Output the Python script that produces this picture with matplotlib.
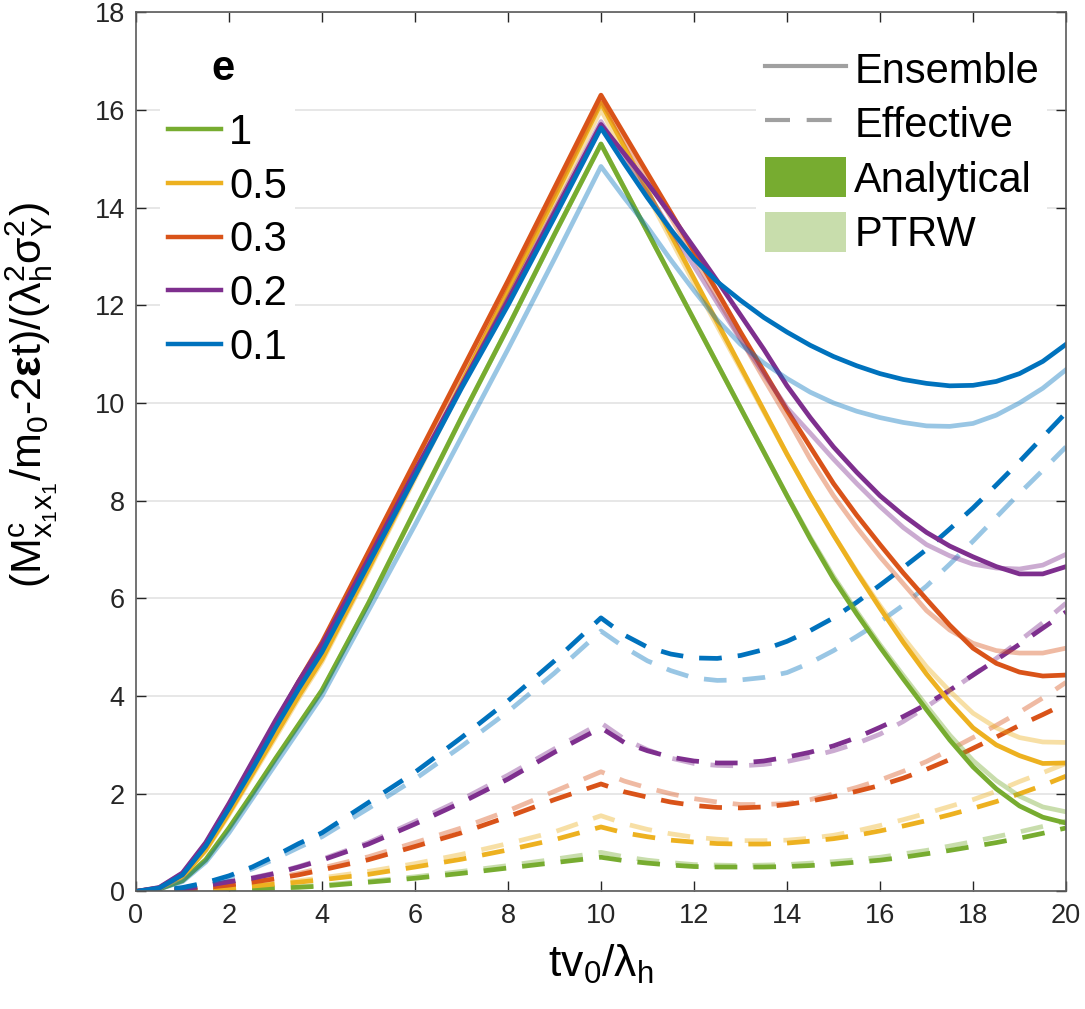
import matplotlib
matplotlib.use("Agg")
from matplotlib import pyplot as plt
from matplotlib.lines import Line2D
from matplotlib.patches import Patch

plt.rcParams['font.family'] = ['Liberation Sans', 'DejaVu Sans']
plt.rcParams['mathtext.fontset'] = 'custom'
plt.rcParams['mathtext.rm'] = 'Liberation Sans'
plt.rcParams['mathtext.it'] = 'Liberation Sans:italic'
plt.rcParams['mathtext.bf'] = 'Liberation Sans:bold'
plt.rcParams['mathtext.default'] = 'regular'

# dimensionless time tv0/lambda_h
t = [0, 0.5, 1, 1.5, 2, 2.5, 3, 3.5, 4, 5, 6, 7, 8, 9,
     10, 10.5, 11, 11.5, 12, 12.5, 13, 13.5, 14, 14.5, 15,
     15.5, 16, 16.5, 17, 17.5, 18, 18.5, 19, 19.5, 20]

e_labels = ['1', '0.5', '0.3', '0.2', '0.1']
e_colors = ['#77AC30', '#EDB120', '#D95319', '#7E2F8E', '#0072BD']

# ensemble, analytical
ens_ana_1 = [0, 0.05, 0.22, 0.65, 1.3, 2.0, 2.72, 3.42, 4.12, 5.9, 7.8, 9.7, 11.55, 13.45,
             15.3, 14.4, 13.5, 12.6, 11.7, 10.8, 9.9, 9.0, 8.1, 7.22, 6.4,
             5.68, 5.0, 4.35, 3.72, 3.1, 2.55, 2.1, 1.75, 1.52, 1.4]
ens_ana_05 = [0, 0.06, 0.3, 0.85, 1.6, 2.4, 3.2, 4.0, 4.75, 6.6, 8.5, 10.4, 12.3, 14.2,
              16.14, 15.25, 14.35, 13.45, 12.55, 11.65, 10.75, 9.85, 8.95, 8.1, 7.3,
              6.53, 5.8, 5.1, 4.45, 3.87, 3.35, 3.0, 2.78, 2.62, 2.63]
ens_ana_03 = [0, 0.07, 0.35, 0.95, 1.75, 2.6, 3.45, 4.3, 5.1, 6.95, 8.8, 10.65, 12.5, 14.4,
              16.3, 15.5, 14.7, 13.9, 13.1, 12.28, 11.45, 10.65, 9.85, 9.1, 8.35,
              7.7, 7.1, 6.52, 5.98, 5.45, 4.98, 4.67, 4.49, 4.41, 4.43]
ens_ana_02 = [0, 0.08, 0.38, 1.0, 1.8, 2.65, 3.5, 4.3, 5.05, 6.8, 8.6, 10.35, 12.1, 13.9,
              15.7, 15.1, 14.5, 13.85, 13.18, 12.5, 11.8, 11.1, 10.35, 9.7, 9.1,
              8.58, 8.1, 7.7, 7.35, 7.07, 6.85, 6.65, 6.5, 6.5, 6.65]
ens_ana_01 = [0, 0.07, 0.34, 0.93, 1.7, 2.5, 3.35, 4.15, 4.9, 6.7, 8.5, 10.3, 12.0, 13.8,
              15.63, 14.9, 14.2, 13.55, 12.95, 12.48, 12.1, 11.75, 11.45, 11.18, 10.95,
              10.76, 10.6, 10.48, 10.4, 10.35, 10.36, 10.44, 10.6, 10.85, 11.2]

# ensemble, PTRW
ens_ptrw_1 = [0, 0.05, 0.22, 0.64, 1.28, 1.98, 2.7, 3.4, 4.1, 5.9, 7.8, 9.7, 11.55, 13.45,
              15.3, 14.4, 13.5, 12.6, 11.7, 10.8, 9.9, 9.0, 8.1, 7.25, 6.45,
              5.73, 5.05, 4.42, 3.8, 3.2, 2.68, 2.27, 1.95, 1.73, 1.63]
ens_ptrw_05 = [0, 0.06, 0.29, 0.83, 1.57, 2.36, 3.15, 3.95, 4.7, 6.55, 8.45, 10.35, 12.2, 14.1,
               16.0, 15.12, 14.25, 13.35, 12.45, 11.57, 10.7, 9.82, 8.95, 8.1, 7.3,
               6.55, 5.85, 5.2, 4.6, 4.1, 3.65, 3.35, 3.15, 3.06, 3.05]
ens_ptrw_03 = [0, 0.07, 0.34, 0.93, 1.72, 2.56, 3.4, 4.25, 5.05, 6.9, 8.75, 10.6, 12.45, 14.3,
               16.2, 15.4, 14.6, 13.8, 12.98, 12.15, 11.32, 10.5, 9.7, 8.85, 8.1,
               7.45, 6.85, 6.3, 5.75, 5.35, 5.08, 4.93, 4.88, 4.88, 4.98]
ens_ptrw_02 = [0, 0.08, 0.37, 0.98, 1.78, 2.62, 3.47, 4.28, 5.02, 6.8, 8.6, 10.35, 12.15, 13.95,
               15.76, 15.0, 14.3, 13.55, 12.8, 12.05, 11.3, 10.6, 9.9, 9.38, 8.85,
               8.35, 7.88, 7.45, 7.1, 6.87, 6.7, 6.62, 6.6, 6.68, 6.9]
ens_ptrw_01 = [0, 0.05, 0.2, 0.6, 1.2, 1.9, 2.6, 3.3, 4.0, 5.75, 7.5, 9.3, 11.1, 12.95,
               14.84, 14.2, 13.6, 12.93, 12.3, 11.7, 11.2, 10.82, 10.5, 10.22, 10.0,
               9.83, 9.7, 9.6, 9.53, 9.52, 9.58, 9.75, 10.0, 10.3, 10.68]

# effective, analytical
eff_ana_1 = [0, 0.002, 0.01, 0.02, 0.035, 0.05, 0.07, 0.085, 0.11, 0.19, 0.27, 0.37, 0.48, 0.59,
             0.7, 0.63, 0.58, 0.54, 0.51, 0.5, 0.5, 0.5, 0.51, 0.53, 0.56,
             0.6, 0.64, 0.7, 0.77, 0.84, 0.92, 1.0, 1.09, 1.19, 1.3]
eff_ana_05 = [0, 0.005, 0.02, 0.04, 0.07, 0.11, 0.15, 0.19, 0.24, 0.35, 0.5, 0.66, 0.85, 1.06,
              1.32, 1.2, 1.12, 1.05, 1.01, 0.98, 0.97, 0.97, 0.99, 1.03, 1.08,
              1.15, 1.24, 1.34, 1.45, 1.57, 1.7, 1.84, 2.0, 2.17, 2.36]
eff_ana_03 = [0, 0.01, 0.04, 0.08, 0.13, 0.19, 0.26, 0.34, 0.44, 0.65, 0.92, 1.2, 1.53, 1.88,
              2.2, 2.04, 1.93, 1.83, 1.76, 1.72, 1.71, 1.73, 1.78, 1.85, 1.94,
              2.05, 2.17, 2.32, 2.5, 2.7, 2.93, 3.16, 3.4, 3.62, 3.85]
eff_ana_02 = [0, 0.01, 0.05, 0.12, 0.2, 0.27, 0.37, 0.5, 0.64, 0.97, 1.38, 1.82, 2.3, 2.85,
              3.35, 3.05, 2.88, 2.75, 2.67, 2.63, 2.63, 2.67, 2.75, 2.85, 2.98,
              3.15, 3.36, 3.58, 3.83, 4.12, 4.43, 4.74, 5.06, 5.39, 5.72]
eff_ana_01 = [0, 0.02, 0.08, 0.18, 0.32, 0.5, 0.73, 0.98, 1.2, 1.82, 2.44, 3.15, 3.9, 4.72,
              5.6, 5.25, 5.0, 4.86, 4.78, 4.77, 4.83, 4.95, 5.12, 5.34, 5.6,
              5.92, 6.27, 6.63, 7.0, 7.42, 7.85, 8.32, 8.8, 9.3, 9.8]

# effective, PTRW
eff_ptrw_1 = [0, 0.002, 0.012, 0.025, 0.04, 0.06, 0.08, 0.1, 0.13, 0.21, 0.3, 0.41, 0.53, 0.66,
              0.8, 0.71, 0.64, 0.59, 0.55, 0.54, 0.53, 0.54, 0.55, 0.58, 0.61,
              0.65, 0.7, 0.77, 0.84, 0.93, 1.02, 1.12, 1.22, 1.33, 1.44]
eff_ptrw_05 = [0, 0.006, 0.022, 0.045, 0.08, 0.12, 0.17, 0.22, 0.28, 0.41, 0.57, 0.76, 0.98, 1.22,
               1.55, 1.39, 1.27, 1.18, 1.11, 1.07, 1.04, 1.04, 1.05, 1.09, 1.15,
               1.24, 1.35, 1.47, 1.6, 1.74, 1.88, 2.05, 2.25, 2.43, 2.62]
eff_ptrw_03 = [0, 0.01, 0.045, 0.09, 0.14, 0.21, 0.28, 0.37, 0.48, 0.71, 1.0, 1.3, 1.65, 2.05,
               2.45, 2.26, 2.12, 2.0, 1.9, 1.83, 1.78, 1.78, 1.8, 1.88, 2.0,
               2.13, 2.28, 2.46, 2.66, 2.9, 3.15, 3.4, 3.67, 3.96, 4.28]
eff_ptrw_02 = [0, 0.01, 0.05, 0.12, 0.2, 0.28, 0.38, 0.51, 0.66, 1.0, 1.43, 1.88, 2.38, 2.92,
               3.45, 3.12, 2.9, 2.73, 2.62, 2.58, 2.57, 2.6, 2.66, 2.76, 2.88,
               3.03, 3.22, 3.48, 3.78, 4.1, 4.43, 4.77, 5.13, 5.5, 5.9]
eff_ptrw_01 = [0, 0.02, 0.07, 0.16, 0.29, 0.46, 0.67, 0.9, 1.12, 1.7, 2.3, 2.97, 3.68, 4.47,
               5.33, 5.0, 4.72, 4.52, 4.37, 4.32, 4.33, 4.38, 4.48, 4.68, 4.93,
               5.22, 5.52, 5.86, 6.25, 6.7, 7.17, 7.66, 8.15, 8.62, 9.1]

ens_ana = [ens_ana_1, ens_ana_05, ens_ana_03, ens_ana_02, ens_ana_01]
ens_ptrw = [ens_ptrw_1, ens_ptrw_05, ens_ptrw_03, ens_ptrw_02, ens_ptrw_01]
eff_ana = [eff_ana_1, eff_ana_05, eff_ana_03, eff_ana_02, eff_ana_01]
eff_ptrw = [eff_ptrw_1, eff_ptrw_05, eff_ptrw_03, eff_ptrw_02, eff_ptrw_01]

LW = 3.4
DASH = (4.8, 3.4)
LIGHT = 0.4
FS_LEG = 30

fig = plt.figure(figsize=(10.85, 10.09), dpi=100)
ax = fig.add_axes([0.1253, 0.1165, 0.8572, 0.8715])

for i, c in enumerate(e_colors):
    ax.plot(t, eff_ptrw[i], color=c, alpha=LIGHT, lw=LW, dashes=DASH)
    ax.plot(t, eff_ana[i], color=c, lw=LW, dashes=DASH)
for i, c in enumerate(e_colors):
    ax.plot(t, ens_ptrw[i], color=c, alpha=LIGHT, lw=LW)
    ax.plot(t, ens_ana[i], color=c, lw=LW)

ax.set_xlim(0, 20)
ax.set_ylim(0, 18)
ax.set_xticks(range(0, 21, 2))
ax.set_yticks(range(0, 19, 2))
ax.yaxis.grid(True, color='#e3e3e3', lw=1.2)
ax.set_axisbelow(True)
ax.tick_params(direction='in', top=True, right=True, length=7, width=1,
               labelsize=19.5, colors='#262626', pad=8)
for s in ax.spines.values():
    s.set_color('#5a5a5a')
    s.set_linewidth(1.2)

ax.set_xlabel(r'tv$_0$/$\lambda_\mathrm{h}$', fontsize=32, labelpad=10)
ax.set_ylabel(r'(M$^{\mathrm{c}}_{\mathrm{x_1x_1}}$/m$_0$-2$\mathbf{ε}$t)/($\lambda^2_\mathrm{h}\sigma^2_\mathrm{Y}$)',
              fontsize=31)
ax.yaxis.set_label_coords(-0.082, 0.565)

# left legend: colour per e, title drawn as separate text
ax.text(0.093, 0.935, 'e', transform=ax.transAxes, fontsize=FS_LEG,
        fontweight='bold', ha='center', va='center', zorder=10)
e_handles = [Line2D([], [], color=c, lw=3.2) for c in e_colors]
leg1 = ax.legend(e_handles, e_labels, loc='upper left',
                 bbox_to_anchor=(0.026, 0.895), fontsize=FS_LEG, frameon=True,
                 facecolor='white', edgecolor='none', framealpha=1,
                 handlelength=1.25, handletextpad=0.2, labelspacing=0.33,
                 borderpad=0.2, borderaxespad=0, fancybox=False)
ax.add_artist(leg1)

kind_handles = [Line2D([], [], color='#a0a0a0', lw=3),
                Line2D([], [], color='#a0a0a0', lw=3, dashes=(6, 4)),
                Patch(facecolor=e_colors[0], edgecolor='none'),
                Patch(facecolor=e_colors[0], alpha=LIGHT, edgecolor='none')]
ax.legend(kind_handles, ['Ensemble', 'Effective', 'Analytical', 'PTRW'],
          loc='upper right', bbox_to_anchor=(0.98, 0.968), fontsize=FS_LEG,
          frameon=True, facecolor='white', edgecolor='none', framealpha=1,
          handlelength=1.95, handleheight=1.1, handletextpad=0.2,
          labelspacing=0.27, borderpad=0.2, borderaxespad=0, fancybox=False)

plt.savefig('out.png', dpi=100)
